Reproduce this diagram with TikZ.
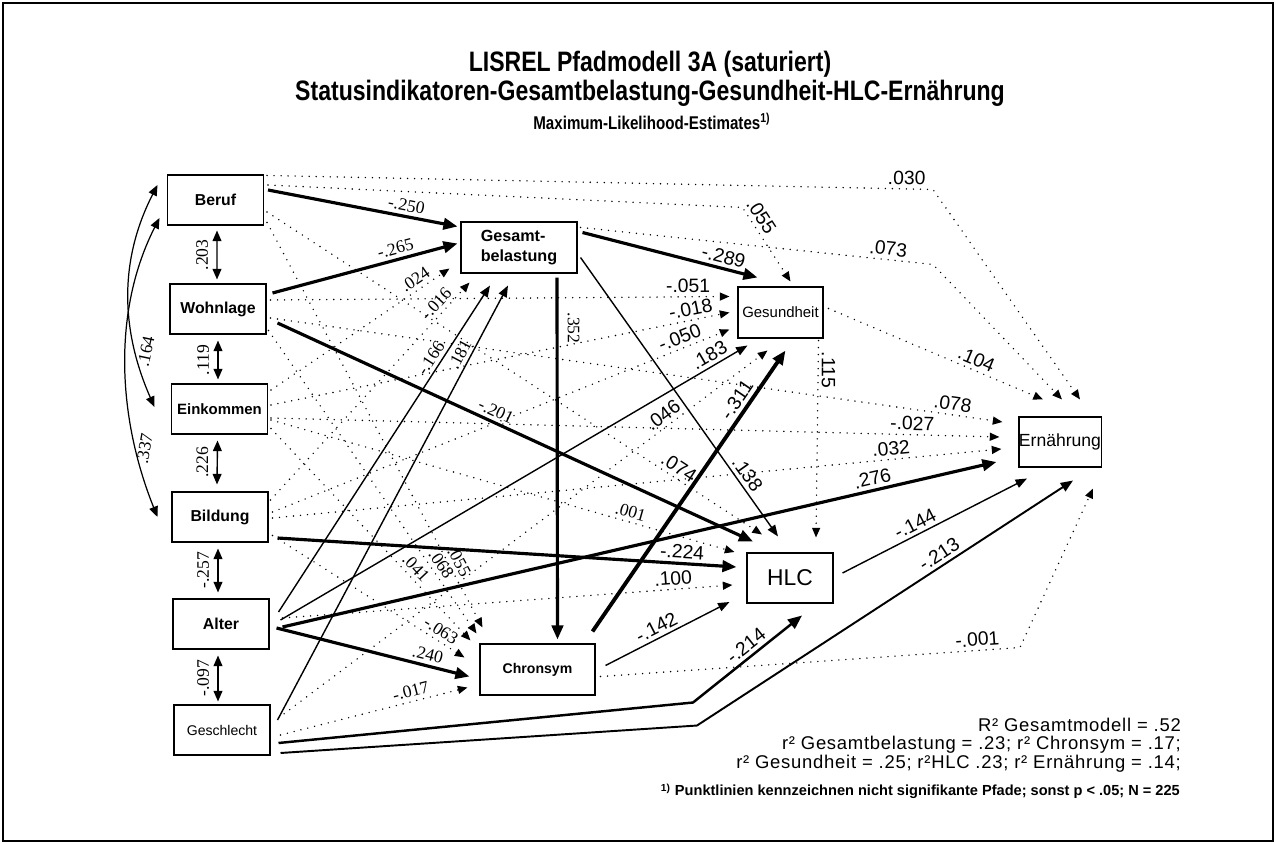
\documentclass[tikz,border=0pt]{standalone}
\usepackage{fontspec}
\setmainfont{Liberation Sans}
\newfontfamily\zahlfont{Liberation Serif}
\newfontfamily\titelfont[FakeStretch=0.82]{Liberation Sans}
\newfontfamily\weitfont[LetterSpace=4]{Liberation Sans}
\usetikzlibrary{arrows.meta,calc}

\tikzset{
  var/.style={draw,line width=0.6pt,inner sep=0pt,minimum width=1.92cm,minimum height=1cm,
    font=\fontsize{9}{10}\selectfont\bfseries},
  endo/.style={var,font=\fontsize{8.5}{10}\selectfont},
  sig/.style={line width=1.8pt,-{Triangle[length=8pt,width=6.5pt]}},
  sigd/.style={line width=1.1pt,-{Triangle[length=7pt,width=5.5pt]}},
  sigt/.style={line width=0.8pt,-{Triangle[length=6.5pt,width=5pt]}},
  nsig/.style={line width=0.9pt,line cap=round,dash pattern=on 0pt off 4pt,
    -{Triangle[length=5.5pt,width=4.5pt]}},
  korr/.style={line width=0.8pt,{Triangle[length=6pt,width=5pt]}-{Triangle[length=6pt,width=5pt]}},
  wert/.style={sloped,above=1pt,inner sep=1pt,font=\zahlfont\fontsize{10}{10}\selectfont},
  werts/.style={sloped,above=1pt,inner sep=1pt,font=\fontsize{11}{11}\selectfont},
  vwert/.style={rotate=90,anchor=south,inner sep=1pt,outer sep=4pt,font=\zahlfont\fontsize{10}{10}\selectfont},
}

\begin{document}
\begin{tikzpicture}[x=0.02cm,y=-0.02cm]
  \useasboundingbox (0,0) rectangle (1276,844) ;
  %\draw[very thin,gray,step=50] (0,0) grid (1276,844) ;
  \draw[line width=1.2pt] (3,3) rectangle (1273,841) ;

  % Titel
  \node[font=\titelfont\bfseries\fontsize{16}{18}\selectfont] (titel1) at (650,64) {LISREL Pfadmodell 3A (saturiert)} ;
  \node[font=\titelfont\bfseries\fontsize{16}{18}\selectfont] (titel2) at (650,93) {Statusindikatoren-Gesamtbelastung-Gesundheit-HLC-Ernährung} ;
  \node[font=\titelfont\bfseries\fontsize{10.5}{12}\selectfont] (titel3) at (652,121) {Maximum-Likelihood-Estimates\textsuperscript{1)}} ;

  % Variablen
  \node[var] (beruf) at (215.5,200) {Beruf} ;
  \node[var] (wohn) at (218,309) {Wohnlage} ;
  \node[var,font=\fontsize{8.5}{10}\selectfont\bfseries] (eink) at (219.5,409) {Einkommen} ;
  \node[var] (bild) at (220,517) {Bildung} ;
  \node[var] (alter) at (221,624) {Alter} ;
  \node[endo,font=\fontsize{8}{9}\selectfont] (geschl) at (222,730) {Geschlecht} ;
  \node[var,minimum width=2.32cm,minimum height=1.02cm,align=left,
    font=\fontsize{9.2}{11.3}\selectfont\bfseries] (gesamt) at (519,247.5) {Gesamt-\\belastung} ;
  \node[endo,minimum width=1.7cm,minimum height=1.02cm] (gesund) at (780.5,312.5) {Gesundheit} ;
  \node[endo,minimum width=1.72cm,font=\fontsize{13}{14}\selectfont] (hlc) at (790,578) {HLC} ;
  \node[var,minimum width=2.3cm,minimum height=1.02cm,font=\fontsize{8}{9}\selectfont\bfseries] (chron) at (537.5,669.5) {Chronsym} ;
  \node[endo,minimum width=1.64cm,font=\fontsize{10}{11}\selectfont] (ern) at (1060,442) {Ernährung} ;

  % Korrelationen
  \draw[korr] ($(wohn.north)+(-1,-4)$) -- node[vwert] {.203} ($(beruf.south)+(1.5,5)$) ;
  \draw[korr] ($(eink.north)+(-1.5,-4)$) -- node[vwert] {.119} ($(wohn.south)+(0,6)$) ;
  \draw[korr] ($(bild.north)+(-3,-7)$) -- node[vwert] {.226} ($(eink.south)+(-2,6)$) ;
  \draw[korr] ($(alter.north)+(-3,-6)$) -- node[vwert] {-.257} ($(bild.south)+(-2,6)$) ;
  \draw[korr] ($(geschl.north)+(-4,-3)$) -- node[vwert] {-.097} ($(alter.south)+(-3,6)$) ;
  \draw[korr,line width=0.7pt] ($(eink.west)+(-16.5,-2)$) .. controls ($(eink.west)+(-49.5,-77)$) and ($(beruf.west)+(-49,62)$) .. ($(beruf.west)+(-9.5,-15)$)
    node[pos=.25,xshift=6pt,rotate=78,font=\zahlfont\fontsize{10}{10}\selectfont] {.164} ;
  \draw[korr,line width=0.7pt] ($(bild.west)+(-14,0)$) .. controls ($(bild.west)+(-55.4,-103.5)$) and ($(beruf.west)+(-53.5,108)$) .. ($(beruf.west)+(-7.5,18)$)
    node[pos=.22,xshift=5pt,rotate=80,font=\zahlfont\fontsize{10}{10}\selectfont] {.337} ;

  % -> Gesamtbelastung
  \draw[sig] ($(beruf.east)+(4,-10)$) -- node[wert,pos=.72] {-.250} ($(gesamt.west)+(-3,-21)$) ;
  \draw[sig] ($(wohn.east)+(6,-16)$) -- node[wert,pos=.68] {-.265} ($(gesamt.west)+(-3,-4)$) ;
  \draw[nsig] ($(eink.east)+(3,-19)$) -- node[wert,pos=.84] {.024} ($(gesamt.south west)+(-11,-5)$) ;
  \draw[nsig] ($(bild.east)+(2,-17)$) -- node[wert,pos=.87] {-.016} ($(gesamt.south west)+(9,9)$) ;
  \draw[sigt] ($(alter.east)+(9,-12)$) -- node[wert,pos=.76] {-.166} ($(gesamt.south)+(-29,12)$) ;
  \draw[sigt] ($(geschl.east)+(7,-10)$) -- node[wert,pos=.83] {.181} ($(gesamt.south)+(-11,12)$) ;

  % -> Gesundheit
  \draw[sig] ($(gesamt.east)+(5,-15)$) -- node[werts,pos=.79] {-.289} ($(gesund.north)+(-23,-9)$) ;
  \draw[nsig] ($(beruf.east)+(4,-15)$) -- ($(gesund.north)+(-38,-79)$) -- node[werts,pos=.2] {.055} ($(gesund.north)+(10,-5)$) ;
  \draw[nsig] ($(wohn.east)+(4,-9)$) -- node[werts,pos=.91] {-.051} ($(gesund.west)+(-8,-16)$) ;
  \draw[nsig] ($(eink.east)+(3,-4)$) -- node[werts,pos=.92] {-.018} ($(gesund.west)+(-8,0)$) ;
  \draw[nsig] ($(bild.east)+(4,-5)$) -- node[werts,pos=.9] {-.050} ($(gesund.west)+(-8,17)$) ;
  \draw[sigt] ($(alter.east)+(11,-4)$) -- node[werts,pos=.93] {.183} ($(gesund.south)+(-33,7)$) ;
  \draw[nsig] ($(geschl.east)+(8,-12)$) -- node[werts,pos=.8] {.046} ($(gesund.south)+(-13,12)$) ;
  \draw[sig,line width=2.2pt] ($(chron.north)+(55,-12)$) -- node[werts,pos=.8] {-.311} ($(gesund.south)+(5,12)$) ;

  % -> Chronsym
  \draw[sig] ($(gesamt.south)+(38,4)$) -- node[pos=.14,rotate=-90,anchor=south,inner sep=1pt,outer sep=5pt,
    font=\zahlfont\fontsize{10}{10}\selectfont] {.352} ($(chron.north)+(20,-4)$) ;
  \draw[nsig] ($(beruf.south east)+(3,-3)$) -- node[wert,pos=.85] {.055} ($(chron.north west)+(3,-16)$) ;
  \draw[nsig] ($(wohn.south east)+(2,-4)$) -- node[wert,pos=.79] {.068} ($(chron.north west)+(-3,-10)$) ;
  \draw[nsig] ($(eink.south east)+(3,-6)$) -- node[wert,pos=.69] {.041} ($(chron.north west)+(-9,-3)$) ;
  \draw[nsig] ($(bild.south east)+(4,-7)$) -- node[wert,pos=.85,above=0pt] {-.063} ($(chron.west)+(-15,-12)$) ;
  \draw[sig] ($(alter.east)+(7,4)$) -- node[wert,pos=.77] {.240} ($(chron.west)+(-10,7)$) ;
  \draw[nsig] ($(geschl.east)+(10,5)$) -- node[wert,pos=.71] {-.017} ($(chron.west)+(-12,18)$) ;

  % -> HLC
  \draw[sig] ($(wohn.east)+(11,14)$) -- node[wert,pos=.45] {-.201} ($(hlc.north)+(-37,-11)$) ;
  \draw[nsig] ($(beruf.east)+(3,12)$) -- node[werts,pos=.82] {.074} ($(hlc.north)+(-28,-18)$) ;
  \draw[sigt] ($(gesamt.east)+(3,10)$) -- node[werts,pos=.8] {.138} ($(hlc.north)+(-12,-16)$) ;
  \draw[nsig] ($(gesund.south east)+(-5,2)$) -- node[pos=.15,rotate=-90,anchor=south,inner sep=1.5pt,
    font=\fontsize{11}{11}\selectfont] {.115} ($(hlc.north)+(26,-15)$) ;
  \draw[nsig] ($(eink.east)+(3,11)$) -- node[wert,pos=.77] {.001} ($(hlc.west)+(-12,-26)$) ;
  \draw[sig] ($(bild.east)+(9,21)$) -- node[werts,pos=.88] {-.224} ($(hlc.west)+(-10,-11)$) ;
  \draw[nsig] ($(alter.east)+(13,-6)$) -- node[werts,pos=.87] {.100} ($(hlc.west)+(-14,7)$) ;
  \draw[sigt] ($(chron.east)+(10,-4)$) -- node[werts,pos=.45] {-.142} ($(hlc.west)+(-17,24)$) ;
  \draw[sig,line width=1.4pt] ($(geschl.east)+(8,13)$) -- ($(hlc.south)+(-97,99)$) -- node[werts,pos=.55] {-.214} ($(hlc.south)+(12,12)$) ;

  % -> Ernaehrung
  \draw[nsig] ($(beruf.north east)+(3,1)$) -- node[werts,pos=.96] {.030} ($(ern.north)+(-127,-227)$) -- ($(ern.north)+(20,-17)$) ;
  \draw[nsig] ($(gesamt.north east)+(3,6)$) -- node[werts,pos=.87] {.073} ($(ern.north)+(-127,-152)$) -- ($(ern.north)+(2,-17)$) ;
  \draw[nsig] ($(gesund.east)+(5,-4)$) -- node[werts,pos=.67] {.104} ($(ern.north)+(-17,-17)$) ;
  \draw[nsig] ($(wohn.east)+(4,9)$) -- node[werts,pos=.93] {.078} ($(ern.west)+(-16,-20)$) ;
  \draw[nsig] ($(eink.east)+(3,9)$) -- node[werts,pos=.88] {-.027} ($(ern.west)+(-19,-5)$) ;
  \draw[nsig] ($(bild.east)+(4,1)$) -- node[werts,pos=.85] {.032} ($(ern.west)+(-17,7)$) ;
  \draw[sig] ($(alter.east)+(13,3)$) -- node[werts,pos=.83] {.276} ($(ern.west)+(-22,20)$) ;
  \draw[sigt] ($(hlc.east)+(9,-5)$) -- node[werts,pos=.42] {-.144} ($(ern.south)+(-33,11)$) ;
  \draw[sigd] ($(geschl.east)+(10,23)$) -- ($(ern.south)+(-363,258)$) -- node[werts,pos=.66] {-.213} ($(ern.south)+(13,13)$) ;
  \draw[nsig] ($(chron.east)+(5,7)$) -- node[werts,pos=.9] {-.001} ($(ern.south)+(-40,180)$) -- ($(ern.south)+(33,21)$) ;

  % Bestimmtheitsmasse
  \node[anchor=base east,font=\weitfont\fontsize{10.5}{12}\selectfont] (rges) at (1187,732) {R² Gesamtmodell = .52} ;
  \node[anchor=base east,font=\weitfont\fontsize{10.5}{12}\selectfont] (rteil1) at (1187,750) {r² Gesamtbelastung = .23; r² Chronsym = .17;} ;
  \node[anchor=base east,font=\weitfont\fontsize{10.5}{12}\selectfont] (rteil2) at (1187,768) {r² Gesundheit = .25; r²HLC .23; r² Ernährung = .14;} ;
  \node[anchor=base east,font=\bfseries\fontsize{8.3}{10}\selectfont] (fussnote) at (1186,796)
    {\textsuperscript{1)} Punktlinien kennzeichnen nicht signifikante Pfade; sonst p < .05; N = 225} ;
\end{tikzpicture}
\end{document}
